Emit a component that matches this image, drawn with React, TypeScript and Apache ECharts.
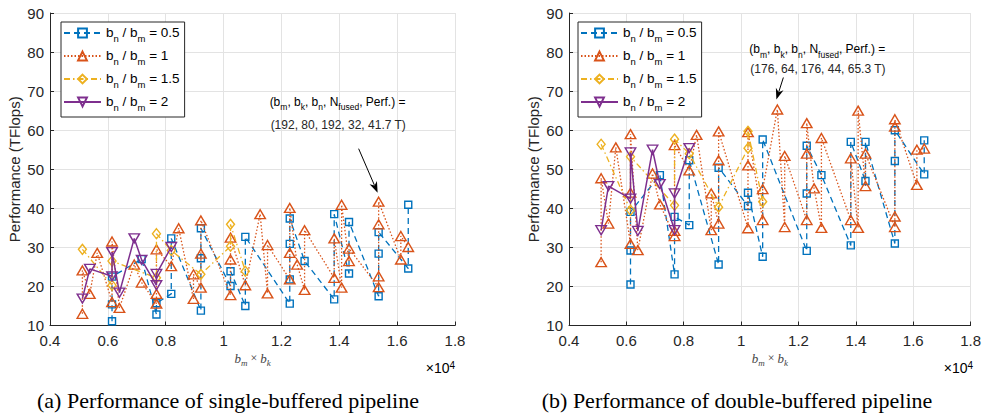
import React, { useEffect, useRef } from 'react';
import * as echarts from 'echarts';

// x = b_m * b_k, y = performance (TFlops)
const ratioNames = ['0.5', '1', '1.5', '2'];

const singleR05: [number, number][] = [
  [6144, 11.1], [6144, 15.4], [6144, 22.5], [7168, 27.0], [7680, 12.8], [7680, 15.7],
  [8192, 18.1], [8192, 32.3], [9216, 13.8], [9216, 27.2], [9216, 34.9], [10240, 20.1],
  [10240, 23.9], [10752, 15.0], [10752, 32.7], [12288, 15.6], [12288, 21.8], [12288, 30.9],
  [12288, 37.4], [12800, 26.5], [13824, 16.7], [13824, 38.5], [14336, 23.3], [14336, 36.5],
  [15360, 17.5], [15360, 28.4], [15360, 33.9], [16384, 24.6], [16384, 40.9],
];
const singleR1: [number, number][] = [
  [5120, 13.0], [5120, 24.1], [5376, 18.1], [5632, 28.6], [6144, 16.0], [6144, 31.5],
  [6400, 14.5], [6912, 25.6], [7168, 21.0], [7680, 15.6], [7680, 18.1], [7680, 29.5],
  [8192, 25.2], [8448, 34.9], [8960, 16.8], [8960, 23.1], [9216, 19.7], [9216, 28.4],
  [9216, 36.9], [10240, 17.8], [10240, 26.9], [10240, 32.5], [10752, 20.3], [11264, 38.5],
  [11520, 18.2], [11520, 30.6], [12288, 21.8], [12288, 28.6], [12288, 40.1], [12544, 25.6],
  [12800, 19.1], [12800, 34.4], [13824, 22.2], [13824, 32.3], [14080, 19.7], [14080, 40.9],
  [14336, 26.5], [14336, 29.7], [15360, 19.8], [15360, 22.6], [15360, 35.9], [15360, 41.7],
  [16128, 26.9], [16128, 32.9], [16384, 30.1],
];
const singleR15: [number, number][] = [
  [5120, 29.5], [6144, 20.3], [6144, 26.5], [7680, 22.2], [7680, 33.5], [8192, 29.2],
  [9216, 23.1], [10240, 30.3], [10240, 35.9], [10752, 23.9],
];
const singleR2: [number, number][] = [
  [5120, 16.9], [5376, 24.5], [6144, 22.6], [6144, 28.8], [6400, 18.4], [6912, 32.3],
  [7168, 26.8], [7680, 20.3], [7680, 23.2], [8192, 30.1],
];

const doubleR05: [number, number][] = [
  [6144, 20.5], [6144, 29.2], [6144, 39.1], [7168, 48.5], [7680, 23.1], [7680, 37.8],
  [8192, 35.7], [8192, 52.3], [9216, 25.6], [9216, 50.4], [10240, 40.6], [10240, 44.0],
  [10752, 27.6], [10752, 57.6], [12288, 29.1], [12288, 43.8], [12288, 56.0], [12800, 48.5],
  [13824, 30.5], [13824, 57.0], [14336, 47.0], [14336, 57.0], [15360, 31.0], [15360, 52.1],
  [15360, 60.0], [16384, 48.7], [16384, 57.4],
];
const doubleR1: [number, number][] = [
  [5120, 26.2], [5120, 47.7], [5376, 36.1], [5632, 55.6], [6144, 30.9], [6144, 44.0],
  [6144, 59.0], [6400, 29.3], [6912, 48.9], [7168, 41.0], [7680, 32.9], [7680, 34.2],
  [7680, 56.2], [8192, 49.7], [8448, 58.8], [8960, 34.4], [8960, 43.8], [9216, 36.1],
  [9216, 52.3], [9216, 59.7], [10240, 34.9], [10240, 51.0], [10240, 59.5], [10752, 37.0],
  [10752, 44.9], [11264, 65.3], [11520, 35.2], [11520, 53.4], [12288, 37.0], [12288, 54.0],
  [12288, 61.8], [12544, 45.1], [12800, 35.0], [12800, 58.0], [13824, 37.0], [13824, 52.8],
  [14080, 35.0], [14080, 65.0], [14336, 45.7], [14336, 54.0], [15360, 35.2], [15360, 37.9],
  [15360, 60.9], [15360, 62.8], [16128, 46.0], [16128, 55.0], [16384, 55.3],
];
const doubleR15: [number, number][] = [
  [5120, 56.4], [6144, 39.5], [6144, 53.2], [7680, 40.8], [7680, 57.7], [8192, 54.0],
  [9216, 40.3], [10240, 55.4], [10240, 59.7], [10752, 41.7],
];
const doubleR2: [number, number][] = [
  [5120, 34.4], [5376, 45.7], [6144, 42.5], [6144, 54.3], [6400, 34.2], [6912, 55.0],
  [7168, 46.2], [7680, 34.4], [7680, 43.8], [8192, 55.4],
];

// annotated best points
const singleBest = { x: 15360, y: 41.7, label: '(192, 80, 192, 32, 41.7 T)' };
const doubleBest = { x: 11264, y: 65.3, label: '(176, 64, 176, 44, 65.3 T)' };

const captions = [
  '(a) Performance of single-buffered pipeline',
  '(b) Performance of double-buffered pipeline',
];

const COLORS = ['#0072BD', '#D95319', '#EDB120', '#7E2F8E'];
const SYMBOLS = ['rect', 'triangle', 'diamond', 'triangle'];
const ROTATES = [0, 0, 0, 180];
const DASHES: any[] = [[6, 4], [1.5, 2], [6, 3, 1.5, 3], 'solid'];
const SANS = 'Liberation Sans';
const AXIS_COLOR = '#262626';

const GRIDS = [
  { left: 50, top: 13, width: 405, height: 312.5 },
  { left: 569, top: 13, width: 404, height: 312.5 },
];

function makeSeries(data: [number, number][], idx: number, grid: number) {
  return {
    type: 'line',
    name: ratioNames[idx],
    xAxisIndex: grid,
    yAxisIndex: grid,
    data,
    symbol: SYMBOLS[idx],
    symbolRotate: ROTATES[idx],
    symbolSize: idx === 0 ? [7, 7] : idx === 2 ? [8, 10] : [10.5, 9],
    showAllSymbol: true,
    z: 2 + idx,
    lineStyle: { color: COLORS[idx], width: idx === 3 ? 1.5 : 1.3, type: DASHES[idx] },
    itemStyle: { color: 'rgba(255,255,255,0)', borderColor: COLORS[idx], borderWidth: 1.4 },
    emphasis: { disabled: true },
  };
}

const legendRich = {
  n: { fontSize: 13.5, fontFamily: SANS, color: '#000', lineHeight: 16, verticalAlign: 'top' },
  s: { fontSize: 9.5, fontFamily: SANS, color: '#000', lineHeight: 10, padding: [8, 0, 0, 0], verticalAlign: 'top' },
};

function makeLegend(left: number) {
  return {
    data: ratioNames,
    orient: 'vertical',
    left,
    top: 22,
    itemWidth: 37,
    itemHeight: 11,
    itemGap: 5,
    padding: [3, 5, 5, 2],
    borderColor: AXIS_COLOR,
    borderWidth: 1,
    backgroundColor: '#fff',
    selectedMode: false,
    textStyle: { rich: legendRich },
    formatter: (name: string) => `{n|b}{s|n}{n| / b}{s|m}{n| = ${name}}`,
  };
}

function makeXAxis(grid: number) {
  return {
    type: 'value',
    gridIndex: grid,
    min: 4000,
    max: 18000,
    interval: 2000,
    name: '{i|b}{s|m}{t| × }{i|b}{s|k}',
    nameLocation: 'middle',
    nameGap: 24,
    nameTextStyle: {
      rich: {
        i: { fontFamily: 'Liberation Serif', fontStyle: 'italic', fontSize: 13, color: '#444', lineHeight: 14, verticalAlign: 'top' },
        s: { fontFamily: 'Liberation Serif', fontStyle: 'italic', fontSize: 9, color: '#444', lineHeight: 10, padding: [6, 0, 0, 0], verticalAlign: 'top' },
        t: { fontFamily: 'Liberation Serif', fontSize: 12, color: '#444', lineHeight: 14, verticalAlign: 'top' },
      },
    },
    axisLine: { onZero: false, lineStyle: { color: AXIS_COLOR, width: 1 } },
    axisTick: { inside: true, length: 4, lineStyle: { color: AXIS_COLOR } },
    axisLabel: {
      color: AXIS_COLOR,
      fontFamily: SANS,
      fontSize: 15,
      margin: 7,
      formatter: (v: number) => String(+(v / 10000).toFixed(1)),
    },
    splitLine: { show: true, lineStyle: { color: '#e3e3e3', width: 1 } },
  };
}

function makeYAxis(grid: number) {
  return {
    type: 'value',
    gridIndex: grid,
    min: 10,
    max: 90,
    interval: 10,
    name: 'Performance (TFlops)',
    nameLocation: 'middle',
    nameGap: 28,
    nameTextStyle: { color: AXIS_COLOR, fontFamily: SANS, fontSize: 15 },
    axisLine: { show: true, onZero: false, lineStyle: { color: AXIS_COLOR, width: 1 } },
    axisTick: { show: true, inside: true, length: 4, lineStyle: { color: AXIS_COLOR } },
    axisLabel: { color: AXIS_COLOR, fontFamily: SANS, fontSize: 15, margin: 6 },
    splitLine: { show: true, lineStyle: { color: '#e3e3e3', width: 1 } },
  };
}

const annRich = {
  n: { fontSize: 12, fontFamily: SANS, color: AXIS_COLOR, lineHeight: 14, verticalAlign: 'top' },
  s: { fontSize: 8.5, fontFamily: SANS, color: AXIS_COLOR, lineHeight: 9, padding: [7, 0, 0, 0], verticalAlign: 'top' },
};
const annHeader = '{n|(b}{s|m}{n|, b}{s|k}{n|, b}{s|n}{n|, N}{s|fused}{n|, Perf.) =}';

function arrow(sx: number, sy: number, tx: number, ty: number) {
  const dx = tx - sx;
  const dy = ty - sy;
  const len = Math.sqrt(dx * dx + dy * dy);
  const ux = dx / len;
  const uy = dy / len;
  const hl = 11;
  const hw = 4;
  const bx = tx - ux * hl;
  const by = ty - uy * hl;
  return [
    { type: 'line', shape: { x1: sx, y1: sy, x2: bx + ux * 3, y2: by + uy * 3 }, style: { stroke: '#000', lineWidth: 1 }, z: 100 },
    {
      type: 'polygon',
      shape: {
        points: [
          [tx, ty],
          [bx - uy * hw, by + ux * hw],
          [tx - ux * hl * 0.7, ty - uy * hl * 0.7],
          [bx + uy * hw, by - ux * hw],
        ],
      },
      style: { fill: '#000' },
      z: 100,
    },
  ];
}

export default function App() {
  const ref = useRef<HTMLDivElement>(null);
  useEffect(() => {
    const chart = echarts.init(ref.current!, null, { renderer: 'svg' });
    const option: any = {
      animation: false,
      backgroundColor: '#fff',
      grid: GRIDS,
      xAxis: [makeXAxis(0), makeXAxis(1)],
      yAxis: [makeYAxis(0), makeYAxis(1)],
      legend: [makeLegend(61), makeLegend(578)],
      series: [
        makeSeries(singleR05, 0, 0),
        makeSeries(singleR1, 1, 0),
        makeSeries(singleR15, 2, 0),
        makeSeries(singleR2, 3, 0),
        makeSeries(doubleR05, 0, 1),
        makeSeries(doubleR1, 1, 1),
        makeSeries(doubleR15, 2, 1),
        makeSeries(doubleR2, 3, 1),
      ],
    };
    chart.setOption(option);

    const p1 = chart.convertToPixel({ gridIndex: 0 } as any, [singleBest.x, singleBest.y]) as number[];
    const p2 = chart.convertToPixel({ gridIndex: 1 } as any, [doubleBest.x, doubleBest.y]) as number[];
    const t1 = [p1[0] - 1, p1[1] - 9];
    const t2 = [p2[0] - 1, p2[1] - 10];
    const x1r = GRIDS[0].left + GRIDS[0].width;
    const x2r = GRIDS[1].left + GRIDS[1].width;
    const bottom = GRIDS[0].top + GRIDS[0].height;

    const supRich = {
      t: { fontSize: 14, fontFamily: SANS, color: AXIS_COLOR, lineHeight: 14, padding: [5, 0, 0, 0], verticalAlign: 'bottom' },
      p: { fontSize: 10, fontFamily: SANS, color: AXIS_COLOR, lineHeight: 10, verticalAlign: 'top' },
    };

    const graphic: any[] = [
      // annotation (a)
      { type: 'text', x: t1[0] - 108, y: t1[1] - 97, z: 100, style: { text: annHeader, rich: annRich, align: 'left', verticalAlign: 'top' } },
      { type: 'text', x: t1[0] - 107, y: t1[1] - 68, z: 100, style: { text: singleBest.label, fontSize: 12, fontFamily: SANS, fill: AXIS_COLOR, align: 'left', verticalAlign: 'middle' } },
      ...arrow(t1[0] - 19, t1[1] - 44, t1[0], t1[1]),
      // annotation (b)
      { type: 'text', x: t2[0] - 27, y: t2[1] - 56, z: 100, style: { text: annHeader, rich: annRich, align: 'left', verticalAlign: 'top' } },
      { type: 'text', x: t2[0] - 26, y: t2[1] - 30, z: 100, style: { text: doubleBest.label, fontSize: 12, fontFamily: SANS, fill: AXIS_COLOR, align: 'left', verticalAlign: 'middle' } },
      ...arrow(t2[0] + 7, t2[1] - 22, t2[0], t2[1]),
      // x10^4
      { type: 'text', x: x1r, y: bottom + 42, style: { text: '{t|×10}{p|4}', rich: supRich, align: 'right', verticalAlign: 'middle' } },
      { type: 'text', x: x2r, y: bottom + 42, style: { text: '{t|×10}{p|4}', rich: supRich, align: 'right', verticalAlign: 'middle' } },
      // captions
      { type: 'text', x: 228, y: 400, style: { text: captions[0], fontSize: 22, fontFamily: 'Liberation Serif', fill: '#000', align: 'center', verticalAlign: 'middle' } },
      { type: 'text', x: 737, y: 400, style: { text: captions[1], fontSize: 22, fontFamily: 'Liberation Serif', fill: '#000', align: 'center', verticalAlign: 'middle' } },
    ];
    chart.setOption({ graphic });

    return () => chart.dispose();
  }, []);

  return (
    <div
      ref={ref}
      style={{ position: 'fixed', left: 0, top: 0, width: 984, height: 414, background: '#fff' }}
    />
  );
}
